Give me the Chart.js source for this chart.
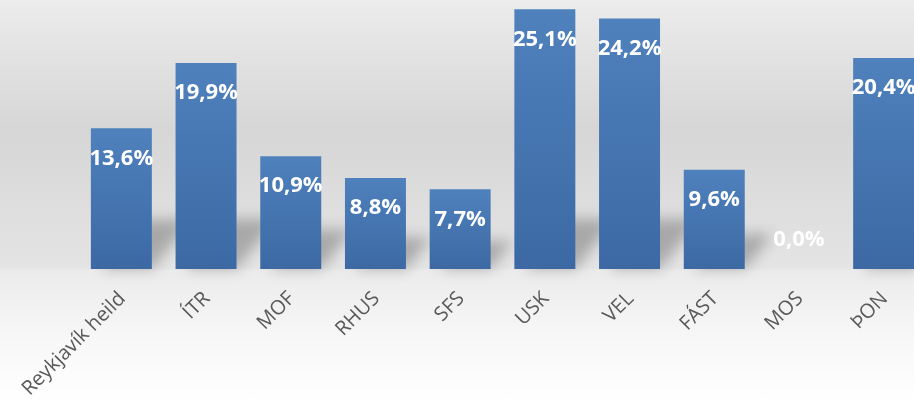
<!DOCTYPE html>
<html>
<head>
<meta charset="utf-8">
<script src="https://cdn.jsdelivr.net/npm/chart.js@4.4.1/dist/chart.umd.min.js"></script>
<style>
    html, body { margin: 0; padding: 0; overflow: hidden; }
    body {
        width: 914px; height: 401px;
        background: linear-gradient(to bottom, #ececec 0px, #d6d6d6 130px, #e4e4e4 268px, #ebebeb 271px, #f6f6f6 330px, #ffffff 401px);
    }
    #wrap { position: relative; width: 926px; height: 401px; }
</style>
</head>
<body>
<div id="wrap"><canvas id="myChart"></canvas></div>
<script>
// categories and values (percent)
var labels = ['Reykjavík heild', 'ÍTR', 'MOF', 'RHUS', 'SFS', 'USK', 'VEL', 'FÁST', 'MOS', 'ÞON'];
var values = [13.6, 19.9, 10.9, 8.8, 7.7, 25.1, 24.2, 9.6, 0.0, 20.4];

//function to format a number with comma as decimal separator
function pct(v) {
    return v.toFixed(1).replace('.', ',') + '%';
}

//gradient for each bar, light on top and darker at the bottom
function barColor(context) {
    let chart = context.chart;
    if (!chart.chartArea) return '#4677b3';
    let y = chart.scales.y;
    let top = y.getPixelForValue(context.parsed ? context.parsed.y : 0);
    let bottom = y.getPixelForValue(0);
    if (bottom - top < 1) top = bottom - 1;
    let g = chart.ctx.createLinearGradient(0, top, 0, bottom);
    g.addColorStop(0, '#4f81bd');
    g.addColorStop(1, '#3c69a3');
    return g;
}

//soft shadows behind the bars
const shadowPlugin = {
    id: 'shadows',
    beforeDatasetsDraw(chart) {
        let ctx = chart.ctx;
        let meta = chart.getDatasetMeta(0);
        ctx.save();
        ctx.filter = 'blur(7px)';
        ctx.fillStyle = 'rgba(0,0,0,0.25)';
        meta.data.forEach(function(bar) {
            let h = bar.base - bar.y;
            if (h < 1) return;
            let len = Math.min(h * 0.35, 50);
            let left = bar.x - bar.width / 2;
            let right = bar.x + bar.width / 2;
            ctx.beginPath();
            ctx.moveTo(left + 10, bar.base);
            ctx.lineTo(right, bar.base);
            ctx.lineTo(right + len * 0.8, bar.base - len);
            ctx.lineTo(left + 10 + len * 0.8, bar.base - len);
            ctx.closePath();
            ctx.fill();
        });
        ctx.restore();
    }
};

//white value labels inside the top of the bars
const valueLabels = {
    id: 'valueLabels',
    afterDatasetsDraw(chart) {
        let ctx = chart.ctx;
        let meta = chart.getDatasetMeta(0);
        ctx.save();
        ctx.font = 'bold 22px "Open Sans"';
        ctx.fillStyle = '#ffffff';
        ctx.textAlign = 'center';
        ctx.textBaseline = 'middle';
        meta.data.forEach(function(bar, i) {
            let y = values[i] > 0 ? bar.y + 30 : bar.base - 29;
            ctx.fillText(pct(values[i]), bar.x, y);
        });
        ctx.restore();
    }
};

var ctx = document.getElementById('myChart').getContext('2d');
var myChart = new Chart(ctx, {
    type: 'bar',
    data: {
        labels: labels,
        datasets: [{
            data: values,
            backgroundColor: barColor,
            borderWidth: 0,
            barPercentage: 0.72,
            categoryPercentage: 1
        }]
    },
    options: {
        responsive: true,
        maintainAspectRatio: false,
        animation: false,
        layout: { padding: { left: 79, right: 0, top: 0, bottom: 0 } },
        plugins: {
            legend: { display: false },
            tooltip: { enabled: false }
        },
        scales: {
            x: {
                grid: { display: false },
                border: { display: false },
                afterFit: function(scale) {
                    scale.height = 132;
                },
                ticks: {
                    color: '#595959',
                    font: { family: 'Open Sans', size: 20 },
                    maxRotation: 45,
                    minRotation: 45,
                    autoSkip: false,
                    padding: 10,
                    labelOffset: 1
                }
            },
            y: {
                display: false,
                min: 0,
                max: 26
            }
        }
    },
    plugins: [shadowPlugin, valueLabels]
});
</script>
</body>
</html>
